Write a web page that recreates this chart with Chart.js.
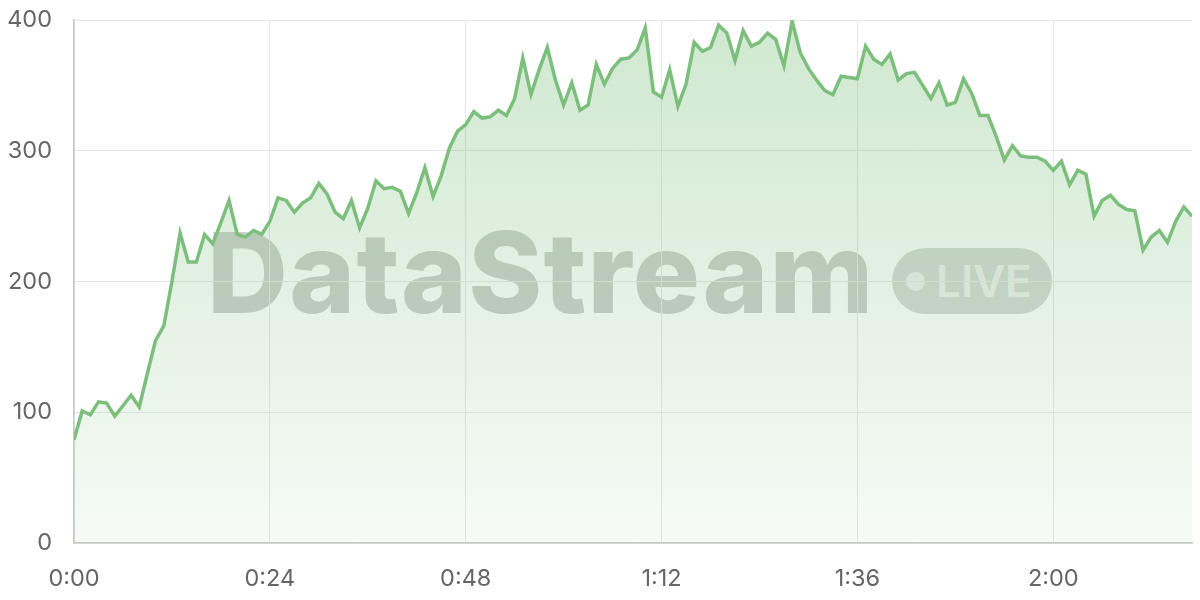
<!DOCTYPE html>
<html>
<head>
<meta charset="utf-8">
<script src="https://cdn.jsdelivr.net/npm/chart.js@4"></script>
<style>
  html, body { margin: 0; padding: 0; background: #ffffff; }
  #wrap { position: relative; width: 1200px; height: 600px; }
  #wm { position: absolute; left: 0; top: 0; width: 1200px; height: 600px; z-index: 0; }
  #wmText { position: absolute; left: 207px; top: 216px; font-family: Inter, "Noto Sans", sans-serif; font-weight: 800;
            font-size: 112px; letter-spacing: 1.3px; color: rgba(85, 92, 85, 0.3); line-height: 1; white-space: nowrap; }
  #pill { position: absolute; left: 892px; top: 248px; width: 160px; height: 66px; border-radius: 33px;
          background: rgba(85, 92, 85, 0.24); }
  #dot { position: absolute; left: 14px; top: 24px; width: 19px; height: 19px; border-radius: 50%; background: rgba(255,255,255,0.6); }
  #live { position: absolute; left: 44px; top: 10px; font-family: Inter, "Noto Sans", sans-serif; font-weight: 600;
          font-size: 44px; line-height: 46px; color: rgba(255,255,255,0.65); }
  canvas { position: absolute; left: 0; top: 0; z-index: 1; }
</style>
</head>
<body>
<div id="wrap">
  <div id="wm">
    <div id="wmText">DataStream</div>
    <div id="pill"><div id="dot"></div><div id="live">LIVE</div></div>
  </div>
  <canvas id="c" width="1200" height="600"></canvas>
</div>
<script>
// minutes since start (one reading per minute)
const minutes = [];
for (let m = 0; m <= 137; m++) minutes.push(m);

const values = [
  79, 101, 98, 108, 107, 97, 105, 113, 104, 130,
  155, 166, 200, 237, 215, 215, 236, 229, 245, 262,
  236, 234, 239, 236, 246, 264, 262, 253, 260, 264,
  275, 267, 253, 248, 262, 241, 256, 277, 271, 272,
  269, 252, 268, 287, 265, 281, 302, 315, 320, 330,
  325, 326, 331, 327, 340, 371, 343, 362, 379, 354,
  335, 352, 331, 335, 366, 351, 363, 370, 371, 377,
  394, 345, 341, 362, 334, 351, 383, 376, 379, 396,
  390, 369, 392, 380, 383, 390, 385, 365, 399, 375,
  363, 354, 346, 343, 357, 356, 355, 380, 370, 366,
  374, 354, 359, 360, 350, 340, 352, 335, 337, 355,
  344, 327, 327, 311, 293, 304, 296, 295, 295, 292,
  285, 292, 274, 285, 282, 250, 262, 266, 259, 255,
  254, 224, 234, 239, 230, 246, 257, 250
];

const yTicks = [0, 100, 200, 300, 400];
const xTickStep = 24;

function fmtTime(m) {
  const h = Math.floor(m / 60);
  const mm = m % 60;
  return h + ':' + (mm < 10 ? '0' : '') + mm;
}

const points = minutes.map((m, i) => ({ x: m, y: values[i] }));

const ctx = document.getElementById('c').getContext('2d');
new Chart(ctx, {
  type: 'line',
  data: {
    datasets: [{
      data: points,
      borderColor: '#7cbf7c',
      borderWidth: 3.5,
      pointRadius: 0,
      tension: 0,
      fill: 'origin',
      backgroundColor: (c) => {
        const area = c.chart.chartArea;
        if (!area) return 'rgba(124,191,124,0.2)';
        const g = c.chart.ctx.createLinearGradient(0, area.top, 0, area.bottom);
        g.addColorStop(0, 'rgba(124,191,124,0.36)');
        g.addColorStop(1, 'rgba(124,191,124,0.07)');
        return g;
      }
    }]
  },
  options: {
    responsive: false,
    animation: false,
    events: [],
    layout: { padding: { top: 20, right: 8, left: 0, bottom: 0 } },
    plugins: { legend: { display: false }, tooltip: { enabled: false } },
    scales: {
      x: {
        type: 'linear',
        min: minutes[0],
        max: minutes[minutes.length - 1],
        afterFit: (s) => { s.height = 57; s.paddingLeft = 0; s.paddingRight = 0; },
        grid: { color: '#e6e6e6', lineWidth: 1, drawTicks: false },
        border: { color: '#c8c8c8', width: 1.5 },
        ticks: {
          stepSize: xTickStep,
          includeBounds: false,
          padding: 22,
          color: '#666',
          font: { family: 'Inter, "Noto Sans", sans-serif', size: 23.5 },
          callback: (v) => fmtTime(v),
          maxRotation: 0
        }
      },
      y: {
        min: yTicks[0],
        max: yTicks[yTicks.length - 1],
        afterFit: (s) => { s.width = 74; s.paddingTop = 0; s.paddingBottom = 0; },
        grid: { color: '#e6e6e6', lineWidth: 1, drawTicks: false },
        border: { color: '#c8c8c8', width: 1.5 },
        ticks: {
          stepSize: 100,
          padding: 22,
          color: '#666',
          font: { family: 'Inter, "Noto Sans", sans-serif', size: 23.5 }
        }
      }
    }
  }
});
</script>
</body>
</html>
